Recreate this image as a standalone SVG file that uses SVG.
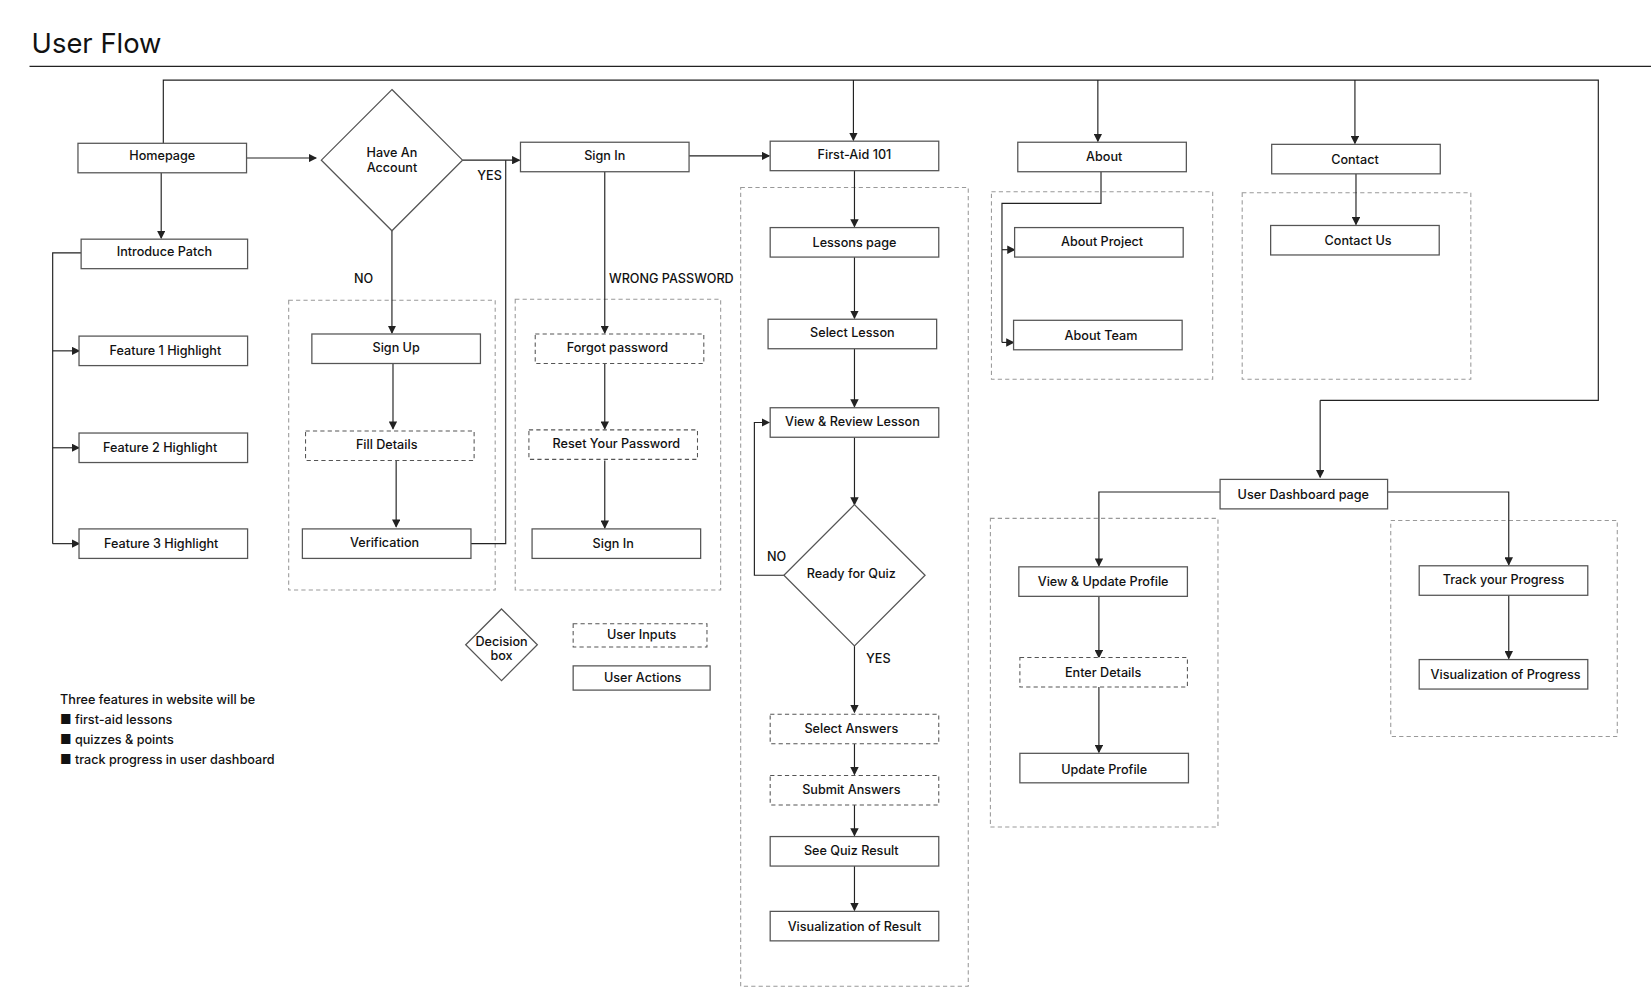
<svg xmlns="http://www.w3.org/2000/svg" width="1651" height="1001" viewBox="0 0 1651 1001">
<defs>
<marker id="ah" markerWidth="8" markerHeight="8" refX="7" refY="4" orient="auto" markerUnits="userSpaceOnUse"><path d="M0,0 L8,4 L0,8 z" fill="#222"/></marker>
<style>
.n{fill:#fff;stroke:#555;stroke-width:1.2}
.d{fill:#fff;stroke:#555;stroke-width:1;stroke-dasharray:4 3}
.g{fill:none;stroke:#999;stroke-width:1;stroke-dasharray:4 3}
.t{font-family:Inter,"Open Sans",sans-serif;font-size:12px;font-weight:500;fill:#111;text-anchor:middle;dominant-baseline:central}
.l{font-family:Inter,"Open Sans",sans-serif;font-size:12px;font-weight:500;fill:#111}
.c{fill:none;stroke:#222;stroke-width:1.1}
.a{fill:none;stroke:#222;stroke-width:1.1;marker-end:url(#ah)}
</style>
</defs>
<rect width="1651" height="1001" fill="#fff"/>
<g transform="scale(1.0536)">
<text x="30" y="50" font-family="Inter,'Open Sans',sans-serif" font-size="26" fill="#111">User Flow</text>
<line x1="28" y1="63" x2="1567" y2="63" stroke="#222" stroke-width="1.2"/>

<g id="groups">
<rect class="g" x="274" y="285" width="196" height="275"/>
<rect class="g" x="489" y="284" width="195" height="276"/>
<rect class="g" x="703" y="178" width="216" height="758"/>
<rect class="g" x="941" y="182" width="210" height="178"/>
<rect class="g" x="1179" y="183" width="217" height="177"/>
<rect class="g" x="940" y="492" width="216" height="293"/>
<rect class="g" x="1320" y="494" width="215" height="205"/>
</g>

<g id="connectors">
<polyline class="c" points="155,136 155,76 1517,76 1517,380 1253,380"/>
<polyline class="a" points="1253,380 1253,453"/>
<line class="a" x1="810" y1="76" x2="810" y2="133"/>
<line class="a" x1="1042" y1="76" x2="1042" y2="134"/>
<line class="a" x1="1286" y1="76" x2="1286" y2="136"/>
<line class="a" x1="234" y1="150" x2="300" y2="150"/>
<line class="a" x1="439" y1="152" x2="493" y2="152"/>
<polyline class="c" points="447,516 480,516 480,152"/>
<line class="a" x1="372" y1="219" x2="372" y2="316"/>
<line class="a" x1="153" y1="164" x2="153" y2="226"/>
<polyline class="c" points="77,240 50,240 50,516"/>
<line class="a" x1="50" y1="333" x2="75" y2="333"/>
<line class="a" x1="50" y1="425" x2="75" y2="425"/>
<line class="a" x1="50" y1="516" x2="75" y2="516"/>
<line class="a" x1="373" y1="345" x2="373" y2="407"/>
<line class="a" x1="376" y1="437" x2="376" y2="500"/>
<line class="a" x1="574" y1="163" x2="574" y2="316"/>
<line class="a" x1="574" y1="345" x2="574" y2="407"/>
<line class="a" x1="574" y1="437" x2="574" y2="501"/>
<line class="a" x1="654" y1="148" x2="730" y2="148"/>
<line class="a" x1="811" y1="162" x2="811" y2="215"/>
<line class="a" x1="811" y1="244" x2="811" y2="302"/>
<line class="a" x1="811" y1="331" x2="811" y2="386"/>
<line class="a" x1="811" y1="415" x2="811" y2="479"/>
<line class="a" x1="811" y1="613" x2="811" y2="676"/>
<polyline class="a" points="744,546 716,546 716,401 730,401"/>
<line class="a" x1="811" y1="706" x2="811" y2="735"/>
<line class="a" x1="811" y1="764" x2="811" y2="793"/>
<line class="a" x1="811" y1="822" x2="811" y2="864"/>
<polyline class="c" points="1045,163 1045,193 951,193 951,325"/>
<line class="a" x1="951" y1="237" x2="963" y2="237"/>
<line class="a" x1="951" y1="325" x2="962" y2="325"/>
<line class="a" x1="1287" y1="165" x2="1287" y2="213"/>
<polyline class="a" points="1158,467 1043,467 1043,537"/>
<polyline class="a" points="1317,467 1432,467 1432,536"/>
<line class="a" x1="1043" y1="566" x2="1043" y2="624"/>
<line class="a" x1="1043" y1="652" x2="1043" y2="714"/>
<line class="a" x1="1432" y1="565" x2="1432" y2="625"/>
<text class="l" x="453" y="171">YES</text>
<text class="l" x="336" y="269">NO</text>
<text class="l" x="578" y="269">WRONG PASSWORD</text>
<text class="l" x="822" y="629">YES</text>
<text class="l" x="728" y="532">NO</text>
</g>

<g id="homepage"><rect class="n" x="74" y="136" width="160" height="28"/><text class="t" x="154" y="148">Homepage</text></g>
<g id="intro"><rect class="n" x="77" y="227" width="158" height="28"/><text class="t" x="156" y="239">Introduce Patch</text></g>
<g id="f1"><rect class="n" x="75" y="319" width="160" height="28"/><text class="t" x="157" y="333">Feature 1 Highlight</text></g>
<g id="f2"><rect class="n" x="75" y="411" width="160" height="28"/><text class="t" x="152" y="425">Feature 2 Highlight</text></g>
<g id="f3"><rect class="n" x="75" y="502" width="160" height="28"/><text class="t" x="153" y="516">Feature 3 Highlight</text></g>
<g id="haveaccount"><polygon class="n" points="372,85 439,152 372,219 305,152"/><text class="t" x="372" y="145">Have An</text><text class="t" x="372" y="159">Account</text></g>
<g id="signin"><rect class="n" x="494" y="135" width="160" height="28"/><text class="t" x="574" y="148">Sign In</text></g>
<g id="signup"><rect class="n" x="296" y="317" width="160" height="28"/><text class="t" x="376" y="330">Sign Up</text></g>
<g id="fill"><rect class="d" x="290" y="409" width="160" height="28"/><text class="t" x="367" y="422">Fill Details</text></g>
<g id="verif"><rect class="n" x="287" y="502" width="160" height="28"/><text class="t" x="365" y="515">Verification</text></g>
<g id="forgot"><rect class="d" x="508" y="317" width="160" height="28"/><text class="t" x="586" y="330">Forgot password</text></g>
<g id="reset"><rect class="d" x="502" y="408" width="160" height="28"/><text class="t" x="585" y="421">Reset Your Password</text></g>
<g id="signin2"><rect class="n" x="505" y="502" width="160" height="28"/><text class="t" x="582" y="516">Sign In</text></g>
<g id="firstaid"><rect class="n" x="731" y="134" width="160" height="28"/><text class="t" x="811" y="147">First-Aid 101</text></g>
<g id="lessons"><rect class="n" x="731" y="216" width="160" height="28"/><text class="t" x="811" y="230">Lessons page</text></g>
<g id="selectlesson"><rect class="n" x="729" y="303" width="160" height="28"/><text class="t" x="809" y="316">Select Lesson</text></g>
<g id="review"><rect class="n" x="731" y="387" width="160" height="28"/><text class="t" x="809" y="400">View &amp; Review Lesson</text></g>
<g id="quiz"><polygon class="n" points="811,479 878,546 811,613 744,546"/><text class="t" x="808" y="544">Ready for Quiz</text></g>
<g id="selans"><rect class="d" x="731" y="678" width="160" height="28"/><text class="t" x="808" y="691">Select Answers</text></g>
<g id="subans"><rect class="d" x="731" y="736" width="160" height="28"/><text class="t" x="808" y="749">Submit Answers</text></g>
<g id="result"><rect class="n" x="731" y="794" width="160" height="28"/><text class="t" x="808" y="807">See Quiz Result</text></g>
<g id="visres"><rect class="n" x="731" y="865" width="160" height="28"/><text class="t" x="811" y="879">Visualization of  Result</text></g>
<g id="about"><rect class="n" x="966" y="135" width="160" height="28"/><text class="t" x="1048" y="149">About</text></g>
<g id="aboutproj"><rect class="n" x="963" y="216" width="160" height="28"/><text class="t" x="1046" y="229">About Project</text></g>
<g id="aboutteam"><rect class="n" x="962" y="304" width="160" height="28"/><text class="t" x="1045" y="318">About Team</text></g>
<g id="contact"><rect class="n" x="1207" y="137" width="160" height="28"/><text class="t" x="1286" y="151">Contact</text></g>
<g id="contactus"><rect class="n" x="1206" y="214" width="160" height="28"/><text class="t" x="1289" y="228">Contact Us</text></g>
<g id="dashboard"><rect class="n" x="1158" y="455" width="159" height="28"/><text class="t" x="1237" y="469">User Dashboard page</text></g>
<g id="viewprofile"><rect class="n" x="967" y="538" width="160" height="28"/><text class="t" x="1047" y="552">View &amp; Update Profile</text></g>
<g id="enter"><rect class="d" x="968" y="624" width="159" height="28"/><text class="t" x="1047" y="638">Enter Details</text></g>
<g id="updprofile"><rect class="n" x="968" y="715" width="160" height="28"/><text class="t" x="1048" y="730">Update Profile</text></g>
<g id="track"><rect class="n" x="1347" y="537" width="160" height="28"/><text class="t" x="1427" y="550">Track your Progress</text></g>
<g id="visprog"><rect class="n" x="1347" y="626" width="160" height="28"/><text class="t" x="1429" y="640">Visualization of Progress</text></g>

<g id="legend">
<polygon class="n" points="476,578 510,612 476,646 442,612"/>
<text class="t" x="476" y="609">Decision</text><text class="t" x="476" y="622">box</text>
<rect class="d" x="544" y="592" width="127" height="22"/><text class="t" x="609" y="602">User Inputs</text>
<rect class="n" x="544" y="632" width="130" height="23"/><text class="t" x="610" y="643">User  Actions</text>
</g>
<g id="notes">
<text class="l" x="57" y="668">Three features in website will be</text>
<text class="l" x="57" y="687">■ first-aid lessons</text>
<text class="l" x="57" y="706">■ quizzes &amp; points</text>
<text class="l" x="57" y="725">■ track progress in user dashboard</text>
</g>
</g>
</svg>
